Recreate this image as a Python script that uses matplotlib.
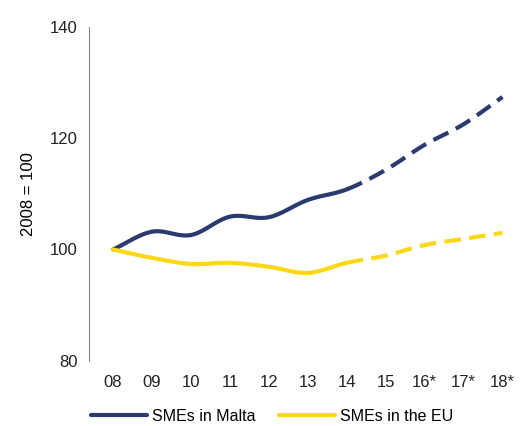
import matplotlib
matplotlib.use("Agg")
import matplotlib.pyplot as plt
import numpy as np

plt.rcParams['font.family'] = ['Liberation Sans', 'DejaVu Sans']

years = ["08", "09", "10", "11", "12", "13", "14", "15", "16*", "17*", "18*"]
malta = [100, 103.2, 102.6, 105.9, 105.8, 108.9, 110.8, 114.3, 118.8, 122.5, 127.4]
eu = [100, 98.5, 97.4, 97.6, 96.9, 95.8, 97.6, 98.9, 100.8, 101.9, 103.0]
split = 6  # index of last actual year (14)


def smooth(x, y, n=20):
    # Catmull-Rom curve through the points
    x = np.asarray(x, float); y = np.asarray(y, float)
    px = np.concatenate([[2*x[0]-x[1]], x, [2*x[-1]-x[-2]]])
    py = np.concatenate([[2*y[0]-y[1]], y, [2*y[-1]-y[-2]]])
    xs, ys = [], []
    for i in range(1, len(px)-2):
        t = np.linspace(0, 1, n, endpoint=False)
        for p, out in ((px, xs), (py, ys)):
            p0, p1, p2, p3 = p[i-1], p[i], p[i+1], p[i+2]
            out.extend(0.5*((2*p1) + (-p0+p2)*t + (2*p0-5*p1+4*p2-p3)*t**2 + (-p0+3*p1-3*p2+p3)*t**3))
    xs.append(x[-1]); ys.append(y[-1])
    return np.array(xs), np.array(ys)


fig = plt.figure(figsize=(5.2, 4.26), dpi=100)
ax = fig.add_axes([0.171, 0.153, 0.82, 0.784])
x = np.arange(len(years))
n = 20
for vals, col, lab in ((malta, "#2b3a6f", "SMEs in Malta"), (eu, "#fcd816", "SMEs in the EU")):
    sx, sy = smooth(x, vals, n)
    k = split * n + 1
    ax.plot(sx[:k], sy[:k], color=col, lw=3, label=lab, solid_capstyle="round")
    ax.plot(sx[k-1:], sy[k-1:], color=col, lw=3, ls=(0, (4, 2)))

ax.set_xlim(-0.62, 10.33)
ax.set_ylim(80, 140)
ax.set_yticks([80, 100, 120, 140])
ax.set_xticks(x)
ax.set_xticklabels(years)
ax.tick_params(labelsize=12, length=0, colors="#222222")
ax.tick_params(axis="x", pad=10)
ax.tick_params(axis="y", pad=8)
for s in ("top", "right", "bottom"):
    ax.spines[s].set_visible(False)
ax.spines["left"].set_color("#888888")
ax.set_ylabel("2008 = 100", fontsize=12, labelpad=10)
ax.legend(loc="upper center", bbox_to_anchor=(0.43, -0.1), ncol=2, frameon=False,
          fontsize=11.5, handlelength=3.5, columnspacing=1.5, handletextpad=0.3)
fig.savefig("out.png", dpi=100)
